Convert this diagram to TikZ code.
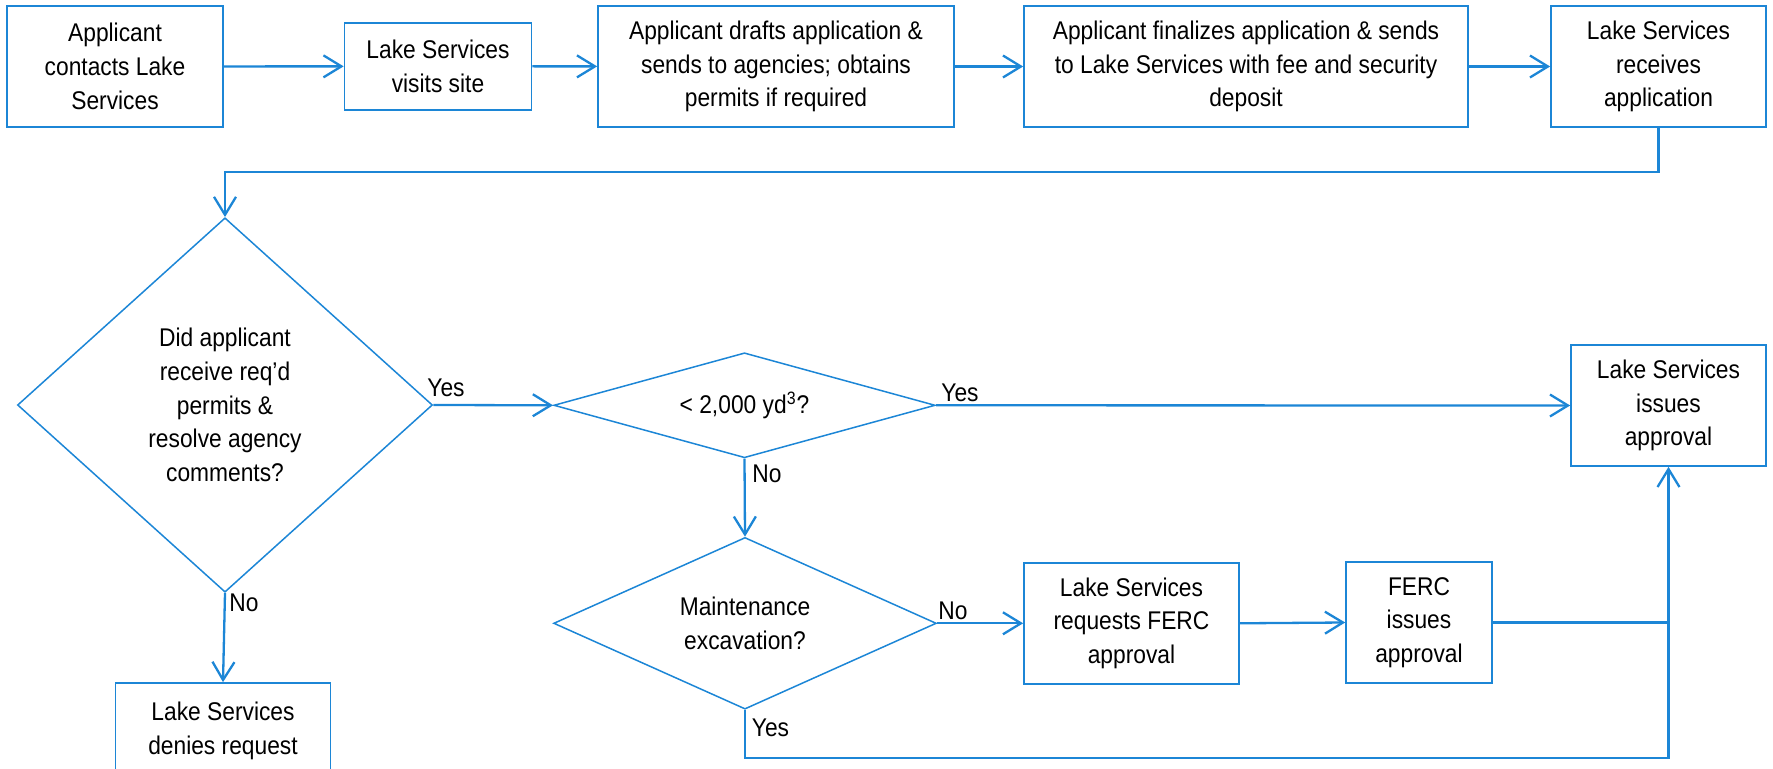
\documentclass[tikz,border=0pt]{standalone}
\usepackage{fontspec}
\setmainfont{Liberation Sans}[FakeStretch=0.89]
\usetikzlibrary{shapes.geometric,arrows.meta}
\definecolor{flowblue}{RGB}{28,134,214}
\begin{document}
\begin{tikzpicture}[x=0.5pt,y=-0.5pt,
  every node/.style={font=\fontsize{12.8}{16.85}\selectfont, text=black},
  box/.style={draw=flowblue, line width=0.85pt, inner sep=0pt, align=center},
  dec/.style={draw=flowblue, line width=0.75pt, shape=diamond, inner sep=0pt, align=center},
  conn/.style={draw=flowblue, line width=1.15pt},
  arr/.style={conn, -{Straight Barb[length=9pt,width=11pt]}},
  lbl/.style={inner sep=0pt, anchor=base west}]
\useasboundingbox (0,0) rectangle (1773,769);
\clip (0,0) rectangle (1773,769);

% top row
\node[box, minimum width=108pt, minimum height=60.5pt] (b1) at (115,66.5) {Applicant\\contacts Lake\\Services};
\node[box, minimum width=93.5pt, minimum height=43.5pt] (b2) at (438,66.3) {Lake Services\\visits site};
\node[box, minimum width=178pt, minimum height=60.5pt] (b3) at (776,66.5) {Applicant drafts application \&\\sends to agencies; obtains\\permits if required};
\node[box, minimum width=222pt, minimum height=60.5pt] (b4) at (1246,66.5) {Applicant finalizes application \& sends\\to Lake Services with fee and security\\deposit};
\node[box, minimum width=107.5pt, minimum height=60.5pt] (b5) at (1658.5,66.5) {Lake Services\\receives\\application};

% decisions
\node[dec, minimum width=207.5pt, minimum height=187.2pt, aspect=1.108] (d1) at (225,405) {Did applicant\\receive req’d\\permits \&\\resolve agency\\comments?};
\node[dec, minimum width=190.75pt, minimum height=52.5pt, aspect=3.63] (d2) at (744.5,405.3) {< 2,000 yd\textsuperscript{3}?};
\node[dec, minimum width=191.35pt, minimum height=85.85pt, aspect=2.23] (d3) at (745,623.3) {Maintenance\\excavation?};

% other boxes
\node[box, minimum width=97.5pt, minimum height=60.5pt] (app) at (1668.5,405.5) {Lake Services\\issues\\approval};
\node[box, minimum width=107.5pt, minimum height=60.5pt] (req) at (1131.5,623.3) {Lake Services\\requests FERC\\approval};
\node[box, minimum width=73pt, minimum height=60.8pt] (ferc) at (1419,622.5) {FERC\\issues\\approval};
\node[box, minimum width=107.5pt, minimum height=48pt] (deny) at (223,731) {Lake Services\\denies request};

% connectors
\draw[arr] (b1) -- (b2);
\draw[arr] (b2) -- (b3);
\draw[arr] (b3) -- (b4);
\draw[arr] (b4) -- (b5);
\coordinate (t1) at (225,171.7);
\draw[arr] (b5.south) |- (t1) -- (d1.north);
\draw[arr] (d1.east) -- (d2.west);
\draw[arr] (d1.south) -- (deny.north);
\draw[arr] (d2.east) -- (app.west);
\draw[arr] (d2.south) -- (d3.north);
\draw[arr] (d3.east) -- (req.west);
\draw[arr] (req.east) -- (ferc.west);
\draw[conn] (ferc.east) -- (ferc.east -| app.south);
\coordinate (bt) at (1668.5,757.7);
\draw[arr] (d3.south) |- (bt) -- (app.south);

% labels
\node[lbl] (y1) at (427,397) {Yes};
\node[lbl] (n1) at (229,612) {No};
\node[lbl] (y2) at (941,402) {Yes};
\node[lbl] (n2) at (752,483) {No};
\node[lbl] (n3) at (938,620) {No};
\node[lbl] (y3) at (751.5,737) {Yes};
\end{tikzpicture}
\end{document}
